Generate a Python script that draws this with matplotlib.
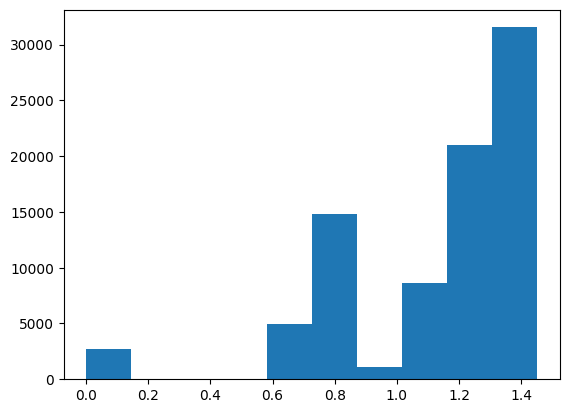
import numpy as np
import matplotlib
matplotlib.use("Agg")
import matplotlib.pyplot as plt

# bin edges and counts
x_min = 0.0
x_max = 1.451
n_bins = 10
counts = [2705, 0, 0, 0, 4950, 14800, 1130, 8620, 20980, 31550]

edges = np.linspace(x_min, x_max, n_bins + 1)
centers = (edges[:-1] + edges[1:]) / 2

fig, ax = plt.subplots(figsize=(6.4, 4.8))
ax.hist(centers, bins=edges, weights=counts)

fig.savefig("out.png", dpi=100, bbox_inches="tight")
